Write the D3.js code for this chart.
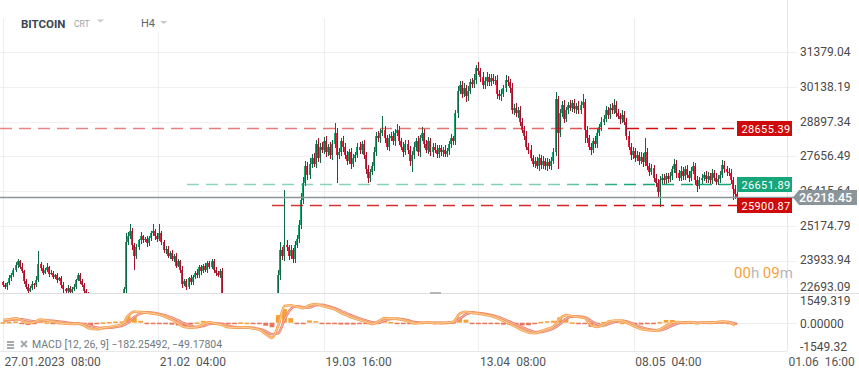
<!DOCTYPE html>
<html>
<head>
<meta charset="utf-8">
<script src="https://cdn.jsdelivr.net/npm/d3@7"></script>
<style>
  body { margin: 0; background: #fff; }
  svg { display: block; font-family: Roboto, "Noto Sans", sans-serif; }
</style>
</head>
<body>
<svg id="chart" width="859" height="378"></svg>
<script>
// ---- data (8h candles, BITCOIN) ----
const firstOpen = 23150;
const closes = [
  23050,22980,23120,23300,23420,23600,23780,23900,23700,23550,
  23200,22980,22850,22950,23100,23050,23250,23800,23650,23500,
  23600,23700,23450,23500,23350,23400,23250,23300,23050,22900,
  22850,22950,22800,22900,23000,23250,23400,23200,23050,22850,
  22750,22550,22300,22000,21800,21750,21850,21700,21800,21900,
  21750,21800,21950,22100,22000,22200,22400,22650,22900,24600,
  24800,25000,24500,24100,24400,24650,24800,24650,24700,24550,
  24750,24900,25000,24800,24700,24900,24600,24300,24350,24100,
  24200,24000,24100,23750,23900,23600,23100,23200,23000,23300,
  23150,23350,23500,23400,23700,23550,23750,23600,23850,23700,
  23900,23600,23500,23400,23550,22500,22400,22350,22450,22300,
  22400,22350,22500,22400,22300,22250,22350,22100,22000,21950,
  21800,21700,21200,20500,20300,20000,20100,20400,20600,20500,
  20900,21800,23400,24300,24100,24500,24400,24100,24300,24000,
  24500,24700,25200,26100,26700,27300,27000,27400,27600,27400,
  28100,27600,28000,27900,28200,27800,28000,27700,28100,28500,
  27700,27800,28200,28000,27700,27500,27800,27400,27600,27700,
  28000,27900,28100,27700,27200,26900,27100,27300,27800,28400,
  28300,28500,28600,28300,28000,28300,28400,28200,28500,28600,
  28200,28000,27800,28100,27900,27500,27700,28000,28200,27800,
  28300,28500,28100,27900,28200,27800,28000,27900,27750,27950,
  27800,27900,27750,27850,28100,28300,28200,29200,30000,30200,
  29900,30100,29800,30000,30300,30250,30400,30800,30700,30500,
  30200,30350,30500,30300,30450,30350,30400,29900,29800,29900,
  30100,30400,30300,30100,29300,29400,29200,29300,28900,28600,
  28400,28000,27900,27600,27400,27500,27300,27600,27350,27500,
  27300,27450,27300,27500,27800,29700,28500,29200,29500,29000,
  29300,29500,29400,29550,29350,29450,29300,29500,29600,28600,
  28300,28000,27900,28200,28100,28500,28700,28900,29000,29300,
  29150,29400,29300,29500,29200,29100,29000,29150,28900,28400,
  28000,27700,27850,27600,27700,27500,27650,27450,27800,27300,
  27100,27250,26900,26700,26400,26800,26900,26800,26950,26850,
  26950,27200,27400,27050,26900,27150,26950,27200,27000,26900,
  27150,27300,26800,26600,26800,26900,27000,26850,26950,26800,
  27050,26900,26750,26850,27000,27350,27200,27100,27050,26800,
  26500,26300,26218.45
];
// wick lengths above / below the body, in USD
const wickUp = [
  60,90,40,120,70,50,110,80,60,130, 50,80,100,60,90,40,120,480,70,110,
  60,130,50,90,70,40,100,60,80,120, 50,90,60,70,110,40,100,80,60,90,
  70,50,120,60,80,90,50,110,70,60, 90,40,80,100,60,70,120,50,90,300,
  150,250,80,60,120,70,140,60,90,110, 70,100,230,60,120,350,80,60,110,90,
  70,120,60,100,80,50,130,70,90,60, 110,80,60,120,70,90,50,100,80,60,
  100,70,90,60,80,100,60,120,50,90, 70,80,60,110,50,90,70,60,100,80,
  60,90,120,80,70,110,60,90,80,100, 150,200,200,300,120,1950,150,100,180,90,
  130,160,200,250,220,180,150,200,160,190, 150,200,120,170,140,190,110,160,130,350,
  180,150,120,200,130,160,110,170,150,120, 140,180,110,160,130,150,120,170,190,140,
  160,120,500,150,110,170,130,160,120,200, 140,110,170,130,160,120,150,180,110,190,
  130,200,120,160,140,110,150,120,170,100, 130,90,150,110,120,160,100,100,180,150,
  140,170,120,160,130,150,190,140,250,120, 180,130,160,110,150,140,120,170,130,160,
  110,150,140,120,180,130,160,110,150,120, 140,170,120,160,110,150,130,140,120,160,
  110,150,130,120,150,250,130,160,120,180, 140,110,160,130,150,120,170,140,300,120,
  160,130,150,120,170,140,110,160,130,150, 120,140,160,200,130,150,110,170,140,120,
  160,130,150,120,140,110,170,130,500,150, 120,140,110,130,150,160,120,140,110,130,
  150,120,150,140,110,160,130,120,150,140, 110,160,130,150,120,140,110,130,160,120,
  140,110,150,130,120,160,130,110,150,140, 120,150,100
];
const wickDn = [
  80,60,100,50,90,70,60,120,80,50, 110,70,90,60,80,120,50,90,100,70,
  60,90,120,50,80,70,110,60,90,130, 70,100,60,80,50,90,60,110,70,80,
  90,120,60,100,70,80,110,60,90,70, 80,60,100,70,90,50,80,110,300,150,
  120,90,200,500,110,80,130,100,70,150, 90,110,80,140,100,70,120,90,150,80,
  110,70,130,90,60,100,150,80,120,70, 90,110,70,100,80,120,60,90,110,70,
  80,100,120,70,90,100,80,60,110,90, 70,100,80,60,120,90,70,110,80,100,
  90,120,150,100,80,130,90,70,110,100, 120,150,100,180,140,200,120,160,130,150,
  170,120,150,130,160,110,180,140,150,120, 160,130,170,110,150,180,120,140,160,130,
  1000,150,120,170,140,160,130,180,120,150, 110,160,140,130,170,200,150,120,160,130,
  140,170,120,160,130,150,110,140,170,120, 150,130,160,110,140,170,400,120,150,130,
  160,110,140,120,170,130,150,110,140,160, 120,150,130,110,140,160,120,150,170,130,
  140,120,200,150,110,160,130,140,120,170, 150,130,160,120,140,110,150,200,130,160,
  120,140,110,160,130,150,120,170,140,110, 150,130,160,120,140,170,110,150,130,160,
  120,150,110,140,130,120,1300,150,130,160, 120,140,110,150,130,160,120,140,110,450,
  150,130,200,120,160,140,110,150,130,120, 160,140,110,130,150,120,170,140,110,150,
  130,160,120,140,110,150,130,160,120,140, 150,120,160,130,200,550,120,150,130,140,
  110,140,120,160,130,110,150,140,120,160, 130,110,150,200,120,140,110,160,130,150,
  120,140,110,130,160,120,150,130,110,140, 400,150,120
];

// MACD (12, 26, 9), one value per day
const macdLine = [
  180,220,290,150,-20,40,200,150,60,-20,
  -60,-90,-60,-200,-400,-430,-330,-280,-200,-120,
  450,730,700,660,600,520,380,200,-50,-280,
  -330,-280,-100,20,-60,-150,-300,-330,-300,-320,
  -380,-470,-750,-1000,-200,1100,1150,1050,960,1150,
  1230,1100,1000,880,650,480,300,180,50,-80,
  80,300,280,250,180,40,-50,0,20,-30,
  -20,0,60,600,720,650,600,520,450,300,
  120,-80,-280,-480,-650,-700,-550,-420,-250,250,
  500,430,380,300,-150,-280,-130,100,150,120,
  -50,-250,-420,-480,-530,-450,-200,0,50,0,
  40,-40,20,0,30,80,30,-182.25492
];
const signalLine = [
  150,170,220,230,150,80,110,140,120,70,
  20,-40,-60,-100,-200,-320,-360,-330,-280,-200,
  0,380,600,680,650,580,480,330,150,-50,
  -220,-290,-220,-80,-40,-90,-200,-290,-320,-320,
  -340,-420,-560,-760,-700,200,900,1080,1020,1000,
  1150,1180,1080,950,780,600,420,280,140,20,
  -20,150,240,260,220,120,20,-10,0,0,
  -10,-10,20,250,550,680,630,580,500,400,
  250,60,-120,-300,-480,-610,-620,-520,-380,-100,
  250,420,410,360,120,-100,-180,-50,80,120,
  50,-120,-300,-420,-480,-500,-380,-180,-30,20,
  20,0,0,10,10,40,50,-49.17804
];
const histBars = [
  30,50,80,-60,-150,-50,100,20,-50,-80,
  -70,-50,10,-100,-180,-100,30,50,80,90,
  450,380,120,-20,-50,-60,-100,-130,-180,-220,
  -120,20,120,100,-20,-60,-100,-40,20,0,
  -40,-60,-200,-300,500,900,300,-30,-60,150,
  100,-60,-80,-70,-120,-120,-120,-100,-90,-100,
  100,160,50,-20,-50,-80,-70,10,20,-30,
  -10,10,40,350,200,-30,-30,-60,-50,-100,
  -130,-140,-160,-180,-170,-90,60,100,130,350,
  280,20,-30,-60,-270,-180,50,150,80,0,
  -100,-130,-120,-60,-50,50,180,180,80,-20,
  20,-40,20,-10,20,40,-20,-133
];
const macdParams = [12, 26, 9];

const priceTicks = [22693.09, 23933.94, 25174.79, 26415.64, 27656.49, 28897.34, 30138.19, 31379.04];
const macdTicks = [1549.319, 0, -1549.32];
const macdTickLabels = ["1549.319", "0.00000", "-1549.32"];
const dateTicks = [
  Date.UTC(2023, 0, 27, 8), Date.UTC(2023, 1, 21, 4), Date.UTC(2023, 2, 19, 16),
  Date.UTC(2023, 3, 13, 8), Date.UTC(2023, 4, 8, 4), Date.UTC(2023, 5, 1, 16)
];
const dateLabels = ["27.01.2023\u200208:00", "21.02\u200204:00", "19.03\u200216:00",
                    "13.04\u200208:00", "08.05\u200204:00", "01.06\u200216:00"];

const levelPrices = [28655.39, 26651.89, 25900.87];
const levelStart = [Date.UTC(2023, 0, 26, 20), Date.UTC(2023, 1, 25, 18), Date.UTC(2023, 2, 11, 8)];

// ---- setup ----
const HOUR = 3600 * 1000;
const t0 = Date.UTC(2023, 0, 27, 8);
const tEnd = Date.UTC(2023, 5, 1, 16);
const lastPrice = closes[closes.length - 1];

const candles = closes.map((c, i) => {
  const o = i ? closes[i - 1] : firstOpen;
  return { t: t0 + i * 8 * HOUR, o, c,
           h: Math.max(o, c) + wickUp[i], l: Math.min(o, c) - wickDn[i] };
});

const svg = d3.select("#chart");
const plotR = 787;

const x = d3.scaleUtc().domain([t0, tEnd]).range([3, plotR]);
const y = d3.scaleLinear().domain([22693.09, 31379.04]).range([295.2, 52.3]);
const ym = d3.scaleLinear().domain([-1549.32, 1549.319]).range([346.2, 299.2]);

const defs = svg.append("defs");
defs.append("clipPath").attr("id", "clipPrice")
  .append("rect").attr("x", 0).attr("y", 33).attr("width", plotR).attr("height", 260);
defs.append("clipPath").attr("id", "clipMacd")
  .append("rect").attr("x", 0).attr("y", 294).attr("width", plotR).attr("height", 57);

// ---- grid ----
const grid = svg.append("g").attr("shape-rendering", "crispEdges");
grid.selectAll(".hg").data(priceTicks.filter(v => y(v) < 293)).enter().append("line")
  .attr("x1", 0).attr("x2", 797)
  .attr("y1", d => Math.round(y(d)) + 0.5).attr("y2", d => Math.round(y(d)) + 0.5)
  .attr("stroke", "#f0f0f0");
grid.selectAll(".vg").data(dateTicks).enter().append("line")
  .attr("x1", d => Math.round(x(d)) + 0.5).attr("x2", d => Math.round(x(d)) + 0.5)
  .attr("y1", 18).attr("y2", 351)
  .attr("stroke", "#eeeeee");
grid.append("line").attr("x1", 0).attr("x2", 797)
  .attr("y1", Math.round(ym(0)) + 0.5).attr("y2", Math.round(ym(0)) + 0.5)
  .attr("stroke", "#eeeeee");
grid.append("line").attr("x1", plotR + 0.5).attr("x2", plotR + 0.5).attr("y1", 0).attr("y2", 351)
  .attr("stroke", "#e8e8e8");
grid.append("line").attr("x1", 0).attr("x2", 859).attr("y1", 293.5).attr("y2", 293.5)
  .attr("stroke", "#dedede");
grid.append("line").attr("x1", 0).attr("x2", plotR).attr("y1", 351.5).attr("y2", 351.5)
  .attr("stroke", "#e8e8e8");
grid.append("rect").attr("x", 430).attr("y", 292).attr("width", 11).attr("height", 2).attr("fill", "#b5b5b5");

// ---- candles ----
const cg = svg.append("g").attr("clip-path", "url(#clipPrice)").attr("shape-rendering", "crispEdges");
cg.selectAll(".body").data(candles).enter().append("rect")
  .attr("x", d => Math.round(x(d.t)) - 1)
  .attr("width", 2)
  .attr("y", d => y(Math.max(d.o, d.c)))
  .attr("height", d => Math.max(1, Math.abs(y(d.o) - y(d.c))))
  .attr("fill", d => d.c >= d.o ? "#16a96b" : "#ee1d3b");
cg.selectAll(".wick").data(candles).enter().append("line")
  .attr("x1", d => Math.round(x(d.t)) + 0.5).attr("x2", d => Math.round(x(d.t)) + 0.5)
  .attr("y1", d => y(d.h)).attr("y2", d => y(d.l))
  .attr("stroke", d => d.c >= d.o ? "#0d6a44" : "#a80f28");

// ---- horizontal levels ----
const levelColor = ["#d10f0f", "#17a679", "#d10f0f"];
const levelFade = [0.5, 0.45, 0.8];
levelPrices.forEach((p, k) => {
  const gid = "lvl" + k;
  const gr = defs.append("linearGradient").attr("id", gid)
    .attr("gradientUnits", "userSpaceOnUse").attr("x1", 0).attr("x2", 737).attr("y1", 0).attr("y2", 0);
  gr.append("stop").attr("offset", 0).attr("stop-color", levelColor[k]).attr("stop-opacity", levelFade[k]);
  gr.append("stop").attr("offset", 0.75).attr("stop-color", levelColor[k]).attr("stop-opacity", levelFade[k] + 0.1);
  gr.append("stop").attr("offset", 0.85).attr("stop-color", levelColor[k]).attr("stop-opacity", 1);
  gr.append("stop").attr("offset", 1).attr("stop-color", levelColor[k]).attr("stop-opacity", 1);
  const yy = Math.round(y(p)) + 0.5;
  svg.append("line")
    .attr("x1", Math.max(0, x(levelStart[k]))).attr("x2", 737)
    .attr("y1", yy).attr("y2", yy)
    .attr("stroke", `url(#${gid})`).attr("stroke-width", 1.5)
    .attr("stroke-dasharray", "12,7");
});

// last price line
const yLast = y(lastPrice);
svg.append("line").attr("x1", 0).attr("x2", 794)
  .attr("y1", Math.round(yLast) + 0.5).attr("y2", Math.round(yLast) + 0.5)
  .attr("stroke", "#8a9499").attr("stroke-width", 1.3);

// ---- price axis ----
const yAxis = svg.append("g").attr("transform", "translate(797,0)")
  .call(d3.axisRight(y).tickValues(priceTicks).tickFormat(d3.format(".2f")).tickSize(0).tickPadding(3))
  .attr("font-size", 12).attr("font-family", "Roboto, sans-serif");
yAxis.select(".domain").remove();
yAxis.selectAll(".tick").attr("transform", d => `translate(0,${Math.min(y(d), 287.5)})`);
yAxis.selectAll("text").attr("fill", "#4a4a4a");

// level labels
levelPrices.forEach((p, k) => {
  const yy = Math.round(y(p));
  svg.append("rect").attr("x", 737).attr("y", yy - 7).attr("width", 55).attr("height", 15)
    .attr("fill", k === 1 ? "#17a679" : "#cf0a0a");
  svg.append("text").attr("x", 741.5).attr("y", yy + 4.5)
    .attr("font-size", 11).attr("letter-spacing", 0.35).attr("fill", "#fff")
    .text(d3.format(".2f")(p));
});

// last price tag
const yl = Math.round(yLast) + 0.5;
svg.append("path")
  .attr("d", `M793,${yl} L799,${yl - 7.5} L857,${yl - 7.5} L857,${yl + 7.5} L799,${yl + 7.5} Z`)
  .attr("fill", "#8a9499");
svg.append("text").attr("x", 799).attr("y", yl + 4.5)
  .attr("font-size", 12.5).attr("font-weight", 500).attr("fill", "#fff")
  .text(d3.format(".2f")(lastPrice));

// countdown
const cd = svg.append("text").attr("x", 734).attr("y", 278).attr("font-size", 15);
cd.append("tspan").attr("fill", "#f6a23a").text("00");
cd.append("tspan").attr("fill", "#b8b8b8").text("h");
cd.append("tspan").attr("fill", "#f6a23a").text(" 09");
cd.append("tspan").attr("fill", "#b8b8b8").text("m");

// ---- MACD pane ----
const mTime = i => t0 + i * 24 * HOUR;
const mg = svg.append("g").attr("clip-path", "url(#clipMacd)");
mg.selectAll(".hb").data(histBars).enter().append("rect")
  .attr("x", (d, i) => x(mTime(i)) - 2.4).attr("width", 4.8)
  .attr("y", d => Math.min(ym(d), ym(0)))
  .attr("height", d => Math.max(1.5, Math.abs(ym(d) - ym(0))))
  .attr("fill", d => d >= 0 ? "#f7a133" : "#ea7459");

const line = d3.line().x((d, i) => x(mTime(i))).y(d => ym(d)).curve(d3.curveMonotoneX);
[[signalLine, "#ea8070", "#f9cfc6"], [macdLine, "#f5a04e", "#fcd9b4"]].forEach(([arr, col, core]) => {
  mg.append("path").attr("d", line(arr)).attr("fill", "none")
    .attr("stroke", col).attr("stroke-width", 2.6);
  mg.append("path").attr("d", line(arr)).attr("fill", "none")
    .attr("stroke", core).attr("stroke-width", 0.8);
});

// macd axis labels
svg.selectAll(".mt").data(macdTicks).enter().append("text")
  .attr("x", 800).attr("y", (d, i) => ym(d) + (i === 0 ? 1.8 : 1)).attr("dy", "0.35em")
  .attr("font-size", 12).attr("fill", "#4a4a4a")
  .text((d, i) => macdTickLabels[i]);

// legend
const lg = svg.append("g").attr("fill", "#a3abb0");
[0, 3, 6].forEach(dy => lg.append("rect").attr("x", 7).attr("y", 341 + dy).attr("width", 7).attr("height", 2));
lg.append("path").attr("d", "M21,341 L27,347 M27,341 L21,347").attr("stroke", "#a3abb0").attr("stroke-width", 2);
svg.append("text").attr("x", 32).attr("y", 348).attr("font-size", 10.5).attr("fill", "#6f7a82")
  .text(`MACD [${macdParams.join(", ")}] ${d3.format(".5f")(macdLine[macdLine.length - 1])}, ${d3.format(".5f")(signalLine[signalLine.length - 1])}`);

// ---- time axis ----
const xAxis = svg.append("g").attr("transform", "translate(0,351)")
  .call(d3.axisBottom(x).tickValues(dateTicks.map(d => new Date(d)))
    .tickFormat((d, i) => dateLabels[i]).tickSize(0))
  .attr("font-size", 12).attr("font-family", "Roboto, sans-serif");
xAxis.select(".domain").remove();
xAxis.selectAll("text").attr("text-anchor", "start").attr("x", 1).attr("y", 15).attr("dy", 0)
  .attr("fill", "#555");

// ---- title bar ----
svg.append("rect").attr("x", 8).attr("y", 8).attr("width", 200).attr("height", 24).attr("fill", "#fff");
svg.append("text").attr("x", 21).attr("y", 27.5).attr("font-size", 11.5).attr("font-weight", 700)
  .attr("fill", "#3b4650").text("BITCOIN");
svg.append("text").attr("x", 74).attr("y", 26.5).attr("font-size", 8.5)
  .attr("fill", "#98a4ad").text("CRT");
svg.append("path").attr("d", "M97,19.5 L104,19.5 L100.5,22.5 Z").attr("fill", "#c3cbd1");
svg.append("text").attr("x", 141).attr("y", 27.3).attr("font-size", 11)
  .attr("fill", "#5b6770").text("H4");
svg.append("path").attr("d", "M160,21 L167.5,21 L163.75,24 Z").attr("fill", "#c3cbd1");
</script>
</body>
</html>
